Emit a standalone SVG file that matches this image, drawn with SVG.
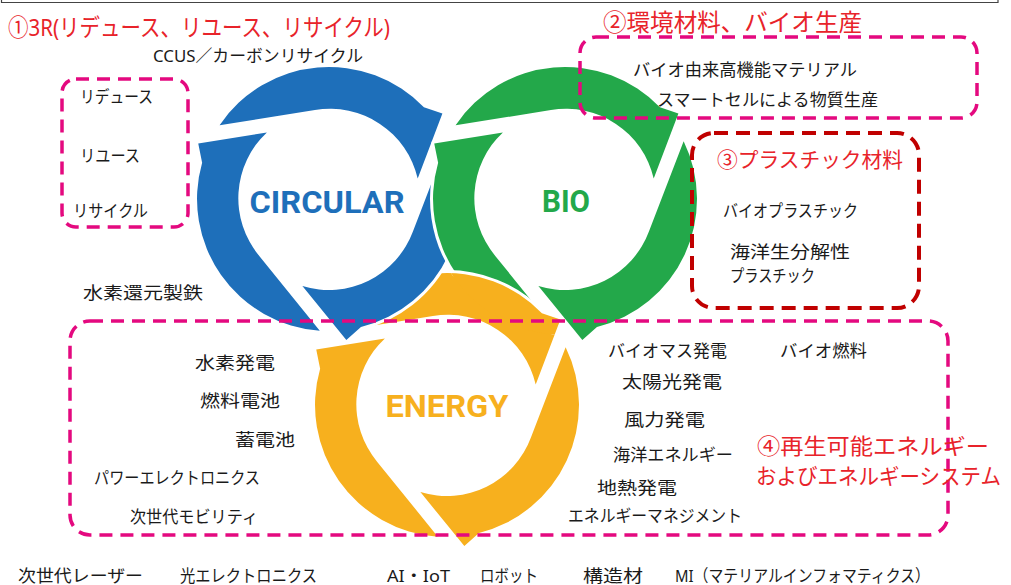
<svg xmlns="http://www.w3.org/2000/svg" width="1011" height="585" viewBox="0 0 1011 585">
<style>
.lbl{font-family:"Noto Sans","Noto Sans CJK JP",sans-serif;font-size:17px;fill:#1a1a1a}
.ttl{font-family:"Noto Sans","Noto Sans CJK JP",sans-serif;font-size:24px;fill:#e8232a}
.hub{font-family:Roboto,"Liberation Sans",sans-serif;font-weight:700;font-size:32px;text-anchor:middle}
.box{fill:none;stroke:#e4097f;stroke-width:3.5;stroke-dasharray:13 8}
.box3{fill:none;stroke:#c00000;stroke-width:4;stroke-dasharray:14 8}
.arw{stroke:#fff;stroke-width:6;paint-order:stroke;stroke-linejoin:round}
</style>
<defs>
  <!-- one clockwise arrow of a ring: sharp tail at 0deg, barbed head near 110-133deg -->
  <path id="arrow" d="M132,0 A132,132 0 0 1 -27.4,129.1 L-46.2,134.3 L-62.1,66.6 A90,90 0 0 0 61.4,65.8 Z"/>
  <g id="ring" class="arw">
    <use href="#arrow" transform="rotate(94)"/>
    <use href="#arrow" transform="rotate(214)"/>
    <use href="#arrow" transform="rotate(334)"/>
  </g>
  <clipPath id="greenDisk"><circle cx="565" cy="199" r="136"/></clipPath>
</defs>

<rect width="1011" height="585" fill="#fff"/>
<path d="M1.5,0 V2.5 H998 V0" fill="none" stroke="#444" stroke-width="1.2"/>

<!-- interlocking rings -->
<g id="energy">
  <use href="#ring" transform="translate(447,405)" fill="#f7b01e"/>
  <text class="hub" x="447" y="417" fill="#f7b01e" textLength="123" lengthAdjust="spacingAndGlyphs">ENERGY</text>
</g>
<g id="circular">
  <use href="#ring" transform="translate(329,199)" fill="#1e6fba"/>
  <text class="hub" x="327" y="213" fill="#1e6fba" textLength="155" lengthAdjust="spacingAndGlyphs">CIRCULAR</text>
</g>
<g id="bio">
  <use href="#ring" transform="translate(565,199)" fill="#23a84a"/>
  <text class="hub" x="566" y="212" fill="#23a84a" textLength="48" lengthAdjust="spacingAndGlyphs">BIO</text>
</g>
<!-- energy ring passes over the bio ring -->
<g id="energy-over" clip-path="url(#greenDisk)">
  <use href="#ring" transform="translate(447,405)" fill="#f7b01e"/>
</g>

<!-- 1: 3R -->
<g id="group-3r">
  <text class="ttl" x="8" y="36" textLength="382" lengthAdjust="spacingAndGlyphs">①3R(リデュース、リユース、リサイクル)</text>
  <text class="lbl" x="153" y="62" textLength="210" lengthAdjust="spacingAndGlyphs">CCUS／カーボンリサイクル</text>
  <rect class="box" x="62" y="79" width="126" height="148" rx="14"/>
  <text class="lbl" x="80" y="103" textLength="73" lengthAdjust="spacingAndGlyphs">リデュース</text>
  <text class="lbl" x="80" y="162" textLength="60" lengthAdjust="spacingAndGlyphs">リユース</text>
  <text class="lbl" x="73" y="217" textLength="75" lengthAdjust="spacingAndGlyphs">リサイクル</text>
  <text class="lbl" x="83" y="299" textLength="120" lengthAdjust="spacingAndGlyphs">水素還元製鉄</text>
</g>

<!-- 2: bio production -->
<g id="group-bio">
  <text class="ttl" x="603" y="31" textLength="259" lengthAdjust="spacingAndGlyphs">②環境材料、バイオ生産</text>
  <rect class="box" x="580" y="37" width="397" height="81" rx="16"/>
  <text class="lbl" x="633" y="76" textLength="224" lengthAdjust="spacingAndGlyphs">バイオ由来高機能マテリアル</text>
  <text class="lbl" x="657" y="106" textLength="221" lengthAdjust="spacingAndGlyphs">スマートセルによる物質生産</text>
</g>

<!-- 3: plastics -->
<g id="group-plastic">
  <rect class="box3" x="692" y="133" width="227" height="175" rx="22"/>
  <text class="ttl" x="717" y="167" textLength="186" lengthAdjust="spacingAndGlyphs" style="font-size:21px">③プラスチック材料</text>
  <text class="lbl" x="723" y="217" textLength="135" lengthAdjust="spacingAndGlyphs">バイオプラスチック</text>
  <text class="lbl" x="730" y="258" textLength="120" lengthAdjust="spacingAndGlyphs">海洋生分解性</text>
  <text class="lbl" x="730" y="282" textLength="85" lengthAdjust="spacingAndGlyphs">プラスチック</text>
</g>

<!-- 4: renewable energy -->
<g id="group-energy">
  <rect class="box" x="70" y="321" width="878" height="214" rx="20"/>
  <text class="lbl" x="195" y="369" textLength="80" lengthAdjust="spacingAndGlyphs">水素発電</text>
  <text class="lbl" x="200" y="407" textLength="80" lengthAdjust="spacingAndGlyphs">燃料電池</text>
  <text class="lbl" x="235" y="446" textLength="60" lengthAdjust="spacingAndGlyphs">蓄電池</text>
  <text class="lbl" x="94" y="484" textLength="166" lengthAdjust="spacingAndGlyphs">パワーエレクトロニクス</text>
  <text class="lbl" x="130" y="523" textLength="128" lengthAdjust="spacingAndGlyphs">次世代モビリティ</text>
  <text class="lbl" x="608" y="357" textLength="119" lengthAdjust="spacingAndGlyphs">バイオマス発電</text>
  <text class="lbl" x="780" y="357" textLength="87" lengthAdjust="spacingAndGlyphs">バイオ燃料</text>
  <text class="lbl" x="622" y="388" textLength="100" lengthAdjust="spacingAndGlyphs">太陽光発電</text>
  <text class="lbl" x="624" y="426" textLength="81" lengthAdjust="spacingAndGlyphs">風力発電</text>
  <text class="lbl" x="613" y="461" textLength="120" lengthAdjust="spacingAndGlyphs">海洋エネルギー</text>
  <text class="lbl" x="597" y="494" textLength="80" lengthAdjust="spacingAndGlyphs">地熱発電</text>
  <text class="lbl" x="568" y="522" textLength="174" lengthAdjust="spacingAndGlyphs">エネルギーマネジメント</text>
  <text class="ttl" x="757" y="454" textLength="232" lengthAdjust="spacingAndGlyphs" style="font-size:22px">④再生可能エネルギー</text>
  <text class="ttl" x="756" y="484" textLength="245" lengthAdjust="spacingAndGlyphs" style="font-size:22px">およびエネルギーシステム</text>
</g>

<!-- cross-cutting technologies -->
<g id="base-tech">
  <text class="lbl" x="18" y="582" textLength="125" lengthAdjust="spacingAndGlyphs">次世代レーザー</text>
  <text class="lbl" x="180" y="582" textLength="137" lengthAdjust="spacingAndGlyphs">光エレクトロニクス</text>
  <text class="lbl" x="387" y="582" textLength="63" lengthAdjust="spacingAndGlyphs">AI・IoT</text>
  <text class="lbl" x="480" y="582" textLength="58" lengthAdjust="spacingAndGlyphs">ロボット</text>
  <text class="lbl" x="583" y="582" textLength="60" lengthAdjust="spacingAndGlyphs">構造材</text>
  <text class="lbl" x="675" y="582" textLength="255" lengthAdjust="spacingAndGlyphs">MI（マテリアルインフォマティクス）</text>
</g>
</svg>
